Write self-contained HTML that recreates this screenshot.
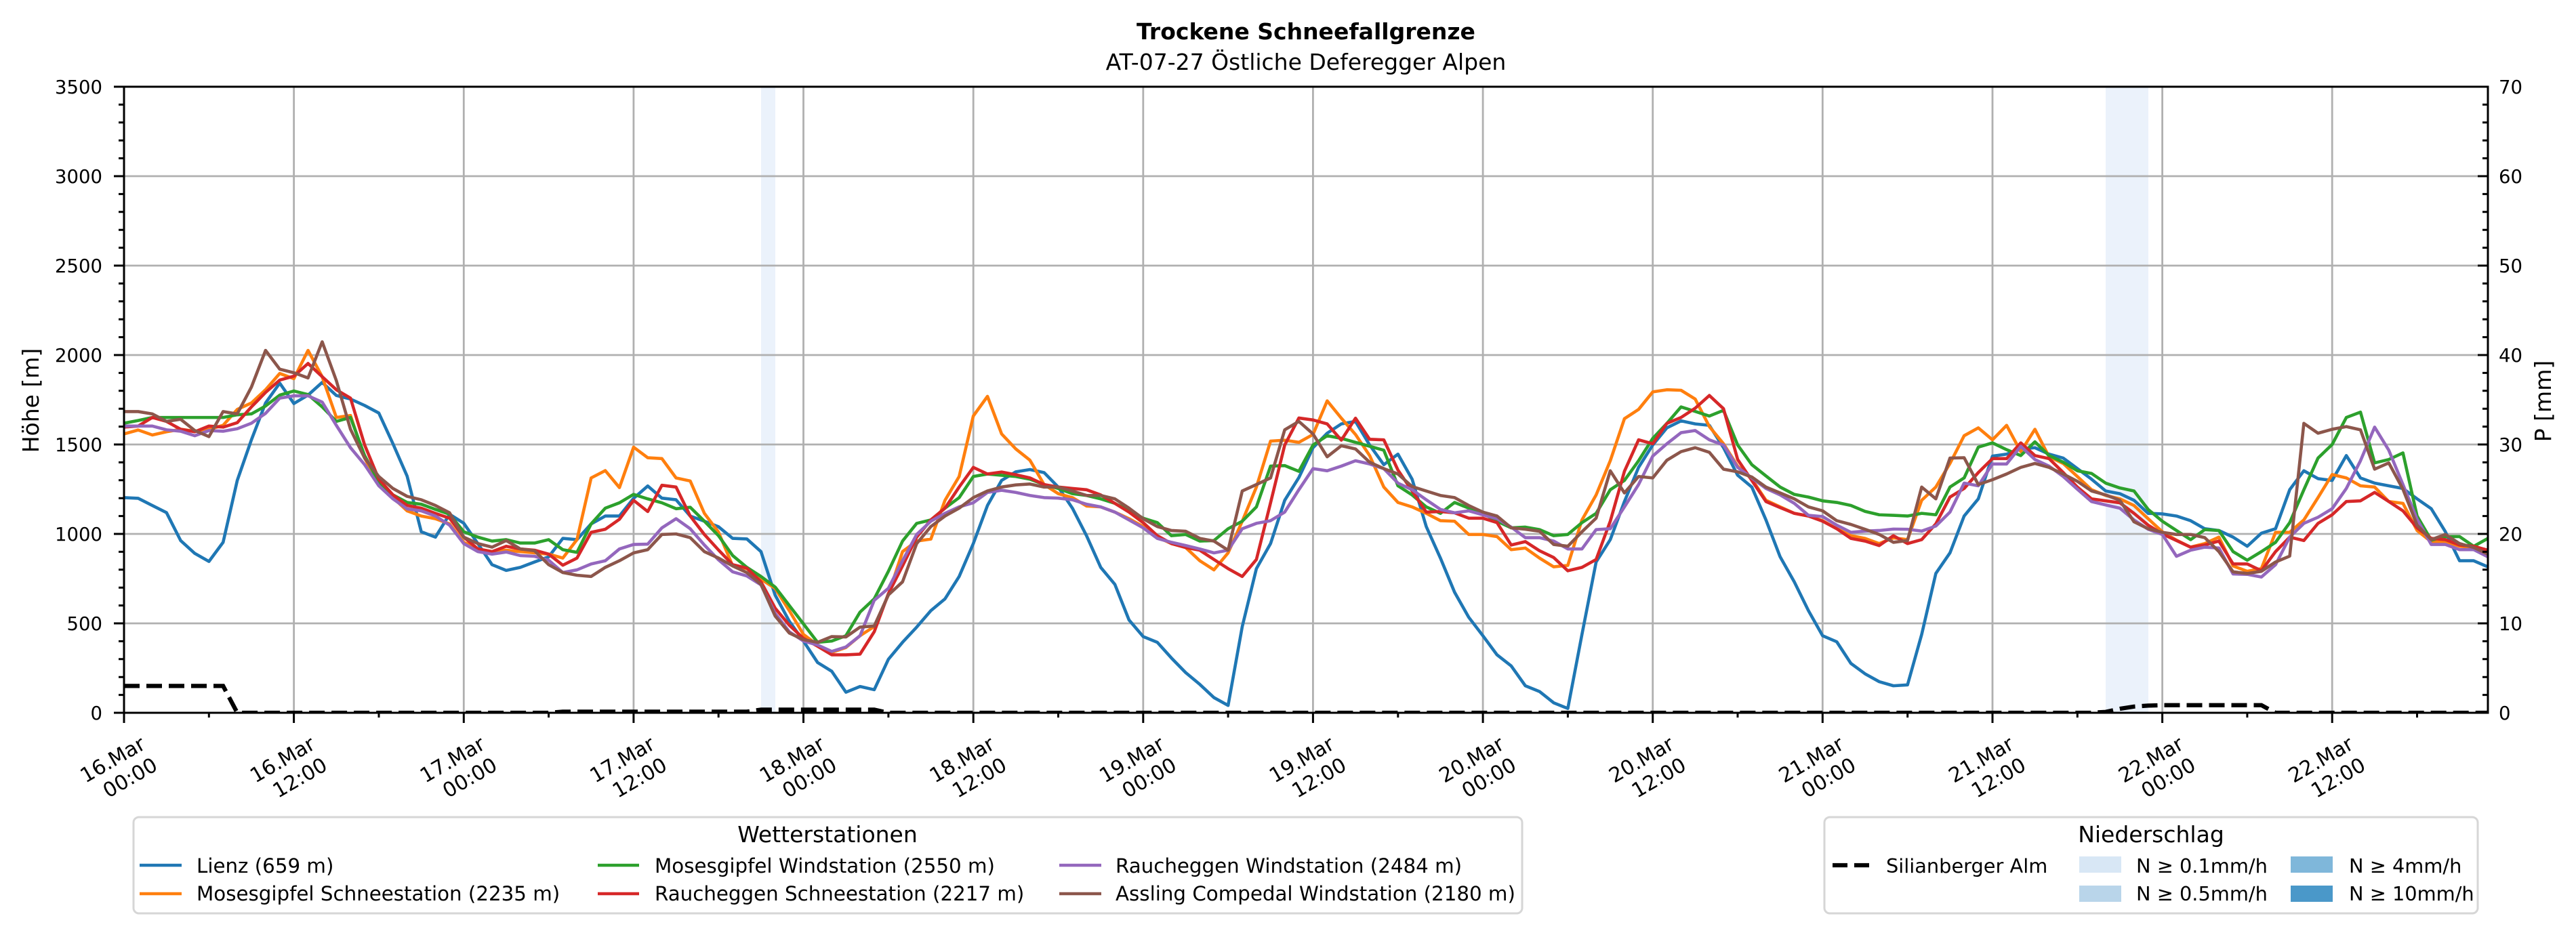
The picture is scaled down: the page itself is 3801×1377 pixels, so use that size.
<!DOCTYPE html>
<html><head><meta charset="utf-8"><style>
html,body{margin:0;padding:0;background:#fff;}
svg{display:block;font-family:"DejaVu Sans","Liberation Sans",sans-serif;}
</style></head><body>
<svg width="3801" height="1377" viewBox="0 0 3801 1377" xmlns="http://www.w3.org/2000/svg">
<defs><clipPath id="ax"><rect x="183" y="128" width="3488" height="924"/></clipPath></defs>
<rect x="0" y="0" width="3801" height="1377" fill="#fff"/>
<!-- precipitation spans -->
<rect x="1123" y="128" width="21" height="924" fill="#ebf2fb"/>
<rect x="3107" y="128" width="63" height="924" fill="#ebf2fb"/>
<!-- grid -->
<g stroke="#b0b0b0" stroke-width="2.8" fill="none">
<path d="M433.6 128V1052M684.3 128V1052M934.9 128V1052M1185.5 128V1052M1436.2 128V1052M1686.8 128V1052M1937.4 128V1052M2188.1 128V1052M2438.7 128V1052M2689.3 128V1052M2940 128V1052M3190.6 128V1052M3441.2 128V1052"/>
<path d="M183 920H3671M183 788H3671M183 656H3671M183 524H3671M183 392H3671M183 260H3671"/>
</g>
<!-- data -->
<g clip-path="url(#ax)">
<g transform="translate(183,1052) scale(20.886,-0.264)" fill="none" stroke-width="4.6" stroke-linejoin="round">
<polyline vector-effect="non-scaling-stroke" stroke="#1f77b4" points="0,1203 1,1199 2,1159 3,1119 4,963 5,891 6,846 7,953 8,1299 9,1526 10,1732 11,1843 12,1729 13,1776 14,1847 15,1774 16,1754 17,1718 18,1676 19,1504 20,1323 21,1012 22,982 23,1110 24,1060 25,946 26,828 27,796 28,813 29,843 30,872 31,975 32,968 33,1056 34,1100 35,1100 36,1199 37,1268 38,1200 39,1191 40,1100 41,1071 42,1040 43,975 44,972 45,901 46,658 47,512 48,401 49,281 50,232 51,115 52,147 53,129 54,299 55,394 56,479 57,571 58,637 59,762 60,946 61,1159 62,1299 63,1347 64,1360 65,1343 66,1262 67,1144 68,990 69,813 70,718 71,519 72,426 73,394 74,306 75,225 76,159 77,85 78,41 79,482 80,806 81,946 82,1188 83,1315 84,1482 85,1563 86,1615 87,1629 88,1497 89,1387 90,1446 91,1306 92,1041 93,865 94,674 95,534 96,431 97,324 98,262 99,151 100,119 101,56 102,24 103,438 104,843 105,968 106,1181 107,1372 108,1497 109,1593 110,1632 111,1615 112,1607 113,1482 114,1328 115,1262 116,1078 117,872 118,732 119,571 120,431 121,397 122,276 123,218 124,174 125,151 126,156 127,438 128,779 129,894 130,1100 131,1196 132,1435 133,1446 134,1475 135,1482 136,1446 137,1424 138,1365 139,1306 140,1240 141,1225 142,1188 143,1115 144,1112 145,1100 146,1074 147,1029 148,1019 149,982 150,931 151,1004 152,1029 153,1247 154,1353 155,1309 156,1299 157,1438 158,1313 159,1284 160,1269 161,1254 162,1196 163,1141 164,1012 165,850 166,850 167,816"/>
<polyline vector-effect="non-scaling-stroke" stroke="#ff7f0e" points="0,1559 1,1581 2,1553 3,1571 4,1585 5,1574 6,1585 7,1607 8,1696 9,1732 10,1806 11,1897 12,1868 13,2026 14,1879 15,1651 16,1662 17,1424 18,1276 19,1203 20,1129 21,1100 22,1085 23,1056 24,953 25,916 26,901 27,909 28,901 29,894 30,887 31,865 32,968 33,1313 34,1354 35,1259 36,1485 37,1426 38,1421 39,1313 40,1296 41,1115 42,1010 43,821 44,806 45,747 46,696 47,571 48,438 49,379 50,338 51,365 52,431 53,482 54,659 55,901 56,960 57,971 58,1188 59,1321 60,1659 61,1769 62,1559 63,1475 64,1412 65,1276 66,1225 67,1203 68,1156 69,1151 70,1122 71,1085 72,1041 73,982 74,946 75,924 76,850 77,799 78,894 79,1071 80,1262 81,1519 82,1524 83,1512 84,1556 85,1744 86,1647 87,1556 88,1438 89,1262 90,1176 91,1151 92,1115 93,1074 94,1071 95,997 96,997 97,985 98,912 99,921 100,865 101,816 102,824 103,1078 104,1218 105,1409 106,1644 107,1696 108,1794 109,1806 110,1803 111,1754 112,1600 113,1504 114,1379 115,1306 116,1188 117,1151 118,1115 119,1100 120,1074 121,1029 122,990 123,975 124,946 125,978 126,968 127,1188 128,1262 129,1394 130,1549 131,1593 132,1526 133,1607 134,1460 135,1585 136,1431 137,1394 138,1321 139,1247 140,1215 141,1196 142,1159 143,1085 144,1012 145,965 146,926 147,946 148,982 149,821 150,791 151,806 152,1009 153,1009 154,1078 155,1203 156,1332 157,1313 158,1269 159,1262 160,1181 161,1171 162,1019 163,956 164,956 165,931 166,924 167,872"/>
<polyline vector-effect="non-scaling-stroke" stroke="#2ca02c" points="0,1619 1,1634 2,1651 3,1651 4,1651 5,1651 6,1651 7,1651 8,1666 9,1671 10,1715 11,1776 12,1799 13,1779 14,1710 15,1629 16,1651 17,1438 18,1291 19,1218 20,1176 21,1166 22,1137 23,1110 24,1012 25,982 26,960 27,968 28,949 29,949 30,968 31,912 32,897 33,1056 34,1144 35,1174 36,1221 37,1196 38,1174 39,1141 40,1149 41,1071 42,990 43,879 44,813 45,762 46,703 47,600 48,497 49,394 50,401 51,431 52,563 53,637 54,791 55,960 56,1059 57,1078 58,1144 59,1203 60,1321 61,1335 62,1328 63,1321 64,1306 65,1276 66,1254 67,1225 68,1215 69,1196 70,1171 71,1129 72,1088 73,1063 74,990 75,997 76,960 77,963 78,1029 79,1071 80,1151 81,1379 82,1382 83,1350 84,1497 85,1549 86,1534 87,1512 88,1490 89,1468 90,1269 91,1218 92,1151 93,1115 94,1176 95,1144 96,1115 97,1071 98,1034 99,1038 100,1024 101,990 102,997 103,1063 104,1115 105,1247 106,1299 107,1409 108,1534 109,1618 110,1710 111,1685 112,1659 113,1691 114,1497 115,1387 116,1324 117,1262 118,1221 119,1206 120,1185 121,1176 122,1159 123,1126 124,1107 125,1104 126,1100 127,1115 128,1107 129,1262 130,1313 131,1485 132,1509 133,1471 134,1438 135,1515 136,1438 137,1401 138,1353 139,1338 140,1284 141,1257 142,1240 143,1137 144,1071 145,1019 146,968 147,1024 148,1019 149,901 150,853 151,901 152,953 153,1063 154,1247 155,1424 156,1500 157,1651 158,1681 159,1397 160,1416 161,1453 162,1100 163,965 164,985 165,985 166,931 167,975"/>
<polyline vector-effect="non-scaling-stroke" stroke="#d62728" points="0,1597 1,1603 2,1651 3,1629 4,1585 5,1571 6,1603 7,1597 8,1622 9,1710 10,1791 11,1860 12,1882 13,1953 14,1879 15,1806 16,1759 17,1497 18,1306 19,1218 20,1159 21,1144 22,1115 23,1088 24,982 25,916 26,901 27,931 28,916 29,909 30,887 31,825 32,865 33,1009 34,1026 35,1082 36,1188 37,1125 38,1272 39,1262 40,1100 41,997 42,910 43,828 44,809 45,732 46,585 47,490 48,416 49,372 50,324 51,324 52,328 53,453 54,666 55,821 56,982 57,1078 58,1144 59,1262 60,1372 61,1335 62,1346 63,1331 64,1313 65,1276 66,1262 67,1254 68,1247 69,1218 70,1171 71,1122 72,1063 73,990 74,946 75,924 76,909 77,857 78,806 79,762 80,857 81,1174 82,1497 83,1648 84,1637 85,1615 86,1524 87,1647 88,1529 89,1526 90,1357 91,1240 92,1122 93,1125 94,1118 95,1088 96,1088 97,1063 98,938 99,957 100,906 101,868 102,794 103,813 104,857 105,1071 106,1350 107,1526 108,1504 109,1618 110,1651 111,1703 112,1774 113,1700 114,1416 115,1299 116,1181 117,1147 118,1115 119,1100 120,1071 121,1029 122,975 123,960 124,935 125,990 126,946 127,968 128,1056 129,1206 130,1254 131,1343 132,1421 133,1421 134,1509 135,1438 136,1421 137,1343 138,1262 139,1196 140,1185 141,1174 142,1115 143,1049 144,1000 145,963 146,926 147,938 148,960 149,832 150,832 151,794 152,901 153,982 154,963 155,1059 156,1107 157,1181 158,1185 159,1232 160,1181 161,1129 162,1034 163,975 164,968 165,938 166,931 167,909"/>
<polyline vector-effect="non-scaling-stroke" stroke="#9467bd" points="0,1603 1,1603 2,1603 3,1582 4,1574 5,1549 6,1578 7,1574 8,1588 9,1619 10,1674 11,1759 12,1772 13,1772 14,1737 15,1607 16,1482 17,1387 18,1269 19,1196 20,1140 21,1129 22,1100 23,1049 24,946 25,901 26,887 27,899 28,879 29,875 30,853 31,784 32,799 33,832 34,850 35,916 36,941 37,943 38,1034 39,1085 40,1029 41,938 42,855 43,788 44,765 45,715 46,556 47,453 48,401 49,379 50,343 51,368 52,431 53,629 54,696 55,850 56,997 57,1071 58,1115 59,1151 60,1174 61,1232 62,1244 63,1232 64,1215 65,1203 66,1200 67,1191 68,1166 69,1151 70,1122 71,1078 72,1034 73,975 74,953 75,935 76,916 77,894 78,909 79,1029 80,1059 81,1074 82,1122 83,1247 84,1365 85,1353 86,1379 87,1409 88,1391 89,1365 90,1284 91,1247 92,1191 93,1137 94,1118 95,1129 96,1107 97,1085 98,1038 99,979 100,979 101,960 102,916 103,916 104,1024 105,1029 106,1151 107,1276 108,1435 109,1504 110,1566 111,1578 112,1526 113,1497 114,1372 115,1313 116,1254 117,1218 118,1171 119,1104 120,1097 121,1049 122,1009 123,1016 124,1019 125,1027 126,1026 127,1016 128,1044 129,1122 130,1284 131,1269 132,1391 133,1391 134,1490 135,1416 136,1379 137,1321 138,1250 139,1181 140,1162 141,1144 142,1078 143,1026 144,997 145,875 146,909 147,926 148,921 149,776 150,774 151,759 152,828 153,982 154,1059 155,1093 156,1141 157,1254 158,1409 159,1597 160,1468 161,1276 162,1082 163,941 164,941 165,912 166,912 167,872"/>
<polyline vector-effect="non-scaling-stroke" stroke="#8c564b" points="0,1684 1,1684 2,1671 3,1629 4,1641 5,1578 6,1544 7,1684 8,1671 9,1821 10,2026 11,1921 12,1901 13,1872 14,2074 15,1857 16,1585 17,1424 18,1321 19,1254 20,1210 21,1191 22,1159 23,1118 24,982 25,946 26,926 27,963 28,916 29,906 30,828 31,784 32,769 33,762 34,813 35,850 36,894 37,912 38,997 39,1000 40,979 41,901 42,865 43,821 44,784 45,718 46,541 47,446 48,409 49,394 50,426 51,424 52,479 53,485 54,659 55,732 56,946 57,1041 58,1100 59,1144 60,1203 61,1240 62,1262 63,1274 64,1279 65,1262 66,1262 67,1240 68,1215 69,1215 70,1196 71,1144 72,1085 73,1041 74,1019 75,1015 76,975 77,960 78,909 79,1240 80,1276 81,1313 82,1582 83,1629 84,1559 85,1431 86,1493 87,1475 88,1401 89,1365 90,1335 91,1265 92,1240 93,1215 94,1203 95,1159 96,1122 97,1100 98,1034 99,1026 100,1015 101,941 102,931 103,1012 104,1088 105,1353 106,1229 107,1321 108,1313 109,1412 110,1460 111,1482 112,1456 113,1362 114,1347 115,1318 116,1262 117,1229 118,1196 119,1151 120,1129 121,1074 122,1053 123,1026 124,997 125,953 126,963 127,1262 128,1196 129,1424 130,1426 131,1276 132,1303 133,1335 134,1372 135,1394 136,1372 137,1335 138,1294 139,1240 140,1218 141,1188 142,1068 143,1029 144,1009 145,997 146,997 147,979 148,901 149,788 150,779 151,791 152,843 153,876 154,1618 155,1563 156,1585 157,1600 158,1582 159,1362 160,1397 161,1250 162,1049 163,968 164,997 165,946 166,924 167,887"/>
</g>
<path d="M183 1012.4H329.2L350.1 1052H809.6L830.5 1050.4H1102L1122.9 1047.4H1290L1310.8 1052H3086.2L3107 1050.7L3127.9 1046.1L3148.8 1042.8L3169.7 1041.4L3190.6 1040.8H3336.8L3357.7 1052H3671" fill="none" stroke="#000" stroke-width="6.25" stroke-dasharray="23 10"/>
</g>
<!-- spines -->
<rect x="183" y="128" width="3488" height="924" fill="none" stroke="#000" stroke-width="3"/>
<!-- ticks -->
<g stroke="#000" stroke-width="3" fill="none">
<path d="M168 1052H183M168 920H183M168 788H183M168 656H183M168 524H183M168 392H183M168 260H183M168 128H183"/>
<path d="M175 1025.6H183M175 999.2H183M175 972.8H183M175 946.4H183M175 893.6H183M175 867.2H183M175 840.8H183M175 814.4H183M175 761.6H183M175 735.2H183M175 708.8H183M175 682.4H183M175 629.6H183M175 603.2H183M175 576.8H183M175 550.4H183M175 497.6H183M175 471.2H183M175 444.8H183M175 418.4H183M175 365.6H183M175 339.2H183M175 312.8H183M175 286.4H183M175 233.6H183M175 207.2H183M175 180.8H183M175 154.4H183"/>
<path d="M3656 1052H3671M3656 920H3671M3656 788H3671M3656 656H3671M3656 524H3671M3656 392H3671M3656 260H3671M3656 128H3671"/>
<path d="M3663 1025.6H3671M3663 999.2H3671M3663 972.8H3671M3663 946.4H3671M3663 893.6H3671M3663 867.2H3671M3663 840.8H3671M3663 814.4H3671M3663 761.6H3671M3663 735.2H3671M3663 708.8H3671M3663 682.4H3671M3663 629.6H3671M3663 603.2H3671M3663 576.8H3671M3663 550.4H3671M3663 497.6H3671M3663 471.2H3671M3663 444.8H3671M3663 418.4H3671M3663 365.6H3671M3663 339.2H3671M3663 312.8H3671M3663 286.4H3671M3663 233.6H3671M3663 207.2H3671M3663 180.8H3671M3663 154.4H3671"/>
<path d="M183 1052V1067M433.6 1052V1067M684.3 1052V1067M934.9 1052V1067M1185.5 1052V1067M1436.2 1052V1067M1686.8 1052V1067M1937.4 1052V1067M2188.1 1052V1067M2438.7 1052V1067M2689.3 1052V1067M2940 1052V1067M3190.6 1052V1067M3441.2 1052V1067"/>
<path d="M308.3 1052V1059M559 1052V1059M809.6 1052V1059M1060.2 1052V1059M1310.9 1052V1059M1561.5 1052V1059M1812.1 1052V1059M2062.8 1052V1059M2313.4 1052V1059M2564 1052V1059M2814.7 1052V1059M3065.3 1052V1059M3315.9 1052V1059M3566.5 1052V1059"/>
</g>
<!-- y tick labels -->
<g font-size="27.5" fill="#000" text-anchor="end">
<text x="151" y="1062">0</text><text x="151" y="930">500</text><text x="151" y="798">1000</text><text x="151" y="666">1500</text><text x="151" y="534">2000</text><text x="151" y="402">2500</text><text x="151" y="270">3000</text><text x="151" y="138">3500</text>
</g>
<g font-size="27.5" fill="#000" text-anchor="start">
<text x="3687" y="1062">0</text><text x="3687" y="930">10</text><text x="3687" y="798">20</text><text x="3687" y="666">30</text><text x="3687" y="534">40</text><text x="3687" y="402">50</text><text x="3687" y="270">60</text><text x="3687" y="138">70</text>
</g>
<!-- x tick labels -->
<g font-size="30" fill="#000" text-anchor="end">
<g transform="translate(205,1084) rotate(-30)"><text x="0" y="23">16.Mar</text><text x="0" y="59">00:00</text></g>
<g transform="translate(455.6,1084) rotate(-30)"><text x="0" y="23">16.Mar</text><text x="0" y="59">12:00</text></g>
<g transform="translate(706.3,1084) rotate(-30)"><text x="0" y="23">17.Mar</text><text x="0" y="59">00:00</text></g>
<g transform="translate(956.9,1084) rotate(-30)"><text x="0" y="23">17.Mar</text><text x="0" y="59">12:00</text></g>
<g transform="translate(1207.5,1084) rotate(-30)"><text x="0" y="23">18.Mar</text><text x="0" y="59">00:00</text></g>
<g transform="translate(1458.2,1084) rotate(-30)"><text x="0" y="23">18.Mar</text><text x="0" y="59">12:00</text></g>
<g transform="translate(1708.8,1084) rotate(-30)"><text x="0" y="23">19.Mar</text><text x="0" y="59">00:00</text></g>
<g transform="translate(1959.4,1084) rotate(-30)"><text x="0" y="23">19.Mar</text><text x="0" y="59">12:00</text></g>
<g transform="translate(2210.1,1084) rotate(-30)"><text x="0" y="23">20.Mar</text><text x="0" y="59">00:00</text></g>
<g transform="translate(2460.7,1084) rotate(-30)"><text x="0" y="23">20.Mar</text><text x="0" y="59">12:00</text></g>
<g transform="translate(2711.3,1084) rotate(-30)"><text x="0" y="23">21.Mar</text><text x="0" y="59">00:00</text></g>
<g transform="translate(2962,1084) rotate(-30)"><text x="0" y="23">21.Mar</text><text x="0" y="59">12:00</text></g>
<g transform="translate(3212.6,1084) rotate(-30)"><text x="0" y="23">22.Mar</text><text x="0" y="59">00:00</text></g>
<g transform="translate(3463.2,1084) rotate(-30)"><text x="0" y="23">22.Mar</text><text x="0" y="59">12:00</text></g>
</g>
<!-- axis labels -->
<text transform="translate(57,591) rotate(-90)" text-anchor="middle" font-size="33" fill="#000">Höhe [m]</text>
<text transform="translate(3764,592) rotate(-90)" text-anchor="middle" font-size="33" fill="#000">P [mm]</text>
<!-- titles -->
<text x="1927" y="58" text-anchor="middle" font-size="33" font-weight="bold" fill="#000">Trockene Schneefallgrenze</text>
<text x="1927" y="103" text-anchor="middle" font-size="33" fill="#000">AT-07-27 Östliche Deferegger Alpen</text>
<!-- legend 1 -->
<rect x="197" y="1206" width="2049" height="142" rx="8" ry="8" fill="#fff" stroke="#d6d6d6" stroke-width="3"/>
<text x="1221" y="1243" text-anchor="middle" font-size="33" fill="#000">Wetterstationen</text>
<g stroke-width="4.6" fill="none">
<path d="M206 1277H268" stroke="#1f77b4"/>
<path d="M206 1319H268" stroke="#ff7f0e"/>
<path d="M882 1277H943" stroke="#2ca02c"/>
<path d="M882 1319H943" stroke="#d62728"/>
<path d="M1563 1277H1625" stroke="#9467bd"/>
<path d="M1563 1319H1625" stroke="#8c564b"/>
</g>
<g font-size="29.3" fill="#000">
<text x="290" y="1288">Lienz (659 m)</text>
<text x="290" y="1329">Mosesgipfel Schneestation (2235 m)</text>
<text x="966" y="1288">Mosesgipfel Windstation (2550 m)</text>
<text x="966" y="1329">Raucheggen Schneestation (2217 m)</text>
<text x="1646" y="1288">Raucheggen Windstation (2484 m)</text>
<text x="1646" y="1329">Assling Compedal Windstation (2180 m)</text>
</g>
<!-- legend 2 -->
<rect x="2692" y="1206" width="964" height="142" rx="8" ry="8" fill="#fff" stroke="#d6d6d6" stroke-width="3"/>
<text x="3174" y="1243" text-anchor="middle" font-size="33" fill="#000">Niederschlag</text>
<path d="M2704 1277H2758" stroke="#000" stroke-width="6.25" stroke-dasharray="22 10" fill="none"/>
<rect x="3068" y="1264" width="62" height="24" fill="#d8e7f5"/>
<rect x="3068" y="1307" width="62" height="24" fill="#b9d5ea"/>
<rect x="3380" y="1264" width="62" height="24" fill="#7fb7da"/>
<rect x="3380" y="1307" width="62" height="24" fill="#4a98c9"/>
<g font-size="28.8" fill="#000">
<text x="2783" y="1288">Silianberger Alm</text>
<text x="3152" y="1288">N ≥ 0.1mm/h</text>
<text x="3152" y="1329">N ≥ 0.5mm/h</text>
<text x="3466" y="1288">N ≥ 4mm/h</text>
<text x="3466" y="1329">N ≥ 10mm/h</text>
</g>
</svg>
</body></html>
